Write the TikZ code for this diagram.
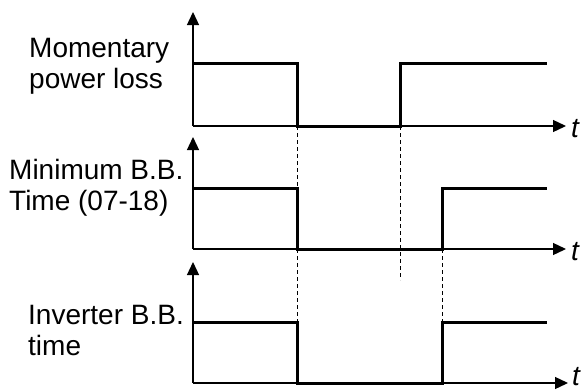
\documentclass[tikz,border=0pt]{standalone}
\usepackage{fontspec}
\setmainfont{Liberation Sans}
\usepackage{tikz}
\usetikzlibrary{arrows.meta, positioning}

\begin{document}
\begin{tikzpicture}[
    x=1pt, y=-1pt,
    axis/.style={-{Triangle[length=13pt, width=12pt]}, line width=1.3pt},
    signal/.style={line width=3pt, line join=miter},
    guide/.style={dash pattern=on 4pt off 3pt, line width=1pt},
    lbl/.style={anchor=base west, inner sep=0pt, align=left, font=\fontsize{28}{31}\selectfont},
    tlbl/.style={anchor=base west, inner sep=0pt, font=\fontsize{28}{31}\selectfont\itshape}
]
\useasboundingbox (0,0) rectangle (585,389);

% origins and axis ends
\coordinate (o1) at (193,126);
\coordinate (o2) at (193,249);
\coordinate (o3) at (193,383);
\coordinate (y1) at (193,12);
\coordinate (y2) at (193,137);
\coordinate (y3) at (193,262);
\coordinate (x1) at (566,126);
\coordinate (x2) at (566,249);
\coordinate (x3) at (568,383);

% labels
\node[lbl] (loss) at (29,88) {Momentary\\power loss};
\node[lbl] (minbb) at (9,210) {Minimum B.B.\\Time (07-18)};
\node[lbl] (invbb) at (28,355) {Inverter B.B.\\time};
\node[tlbl] (t1) at (571,137) {t};
\node[tlbl] (t2) at (571,260) {t};
\node[tlbl] (t3) at (572,385) {t};

% axes
\draw[axis] (o1) -- (y1);
\draw[axis] (o1) -- (x1);
\draw[axis] (o2) -- (y2);
\draw[axis] (o2) -- (x2);
\draw[axis] (o3) -- (y3);
\draw[axis] (o3) -- (x3);

% signals
\draw[signal] (193,63) -- (297,63) -- (297,126) -- (400,126) -- (400,63) -- (547,63);
\draw[signal] (193,188) -- (297,188) -- (297,249) -- (442,249) -- (442,188) -- (547,188);
\draw[signal] (193,322) -- (297,322) -- (297,383) -- (442,383) -- (442,322) -- (547,322);

% timing guides
\draw[guide] (297,126) -- (297,188);
\draw[guide] (297,249) -- (297,322);
\draw[guide] (400,126) -- (400,280);
\draw[guide] (442,249) -- (442,322);

\end{tikzpicture}
\end{document}
